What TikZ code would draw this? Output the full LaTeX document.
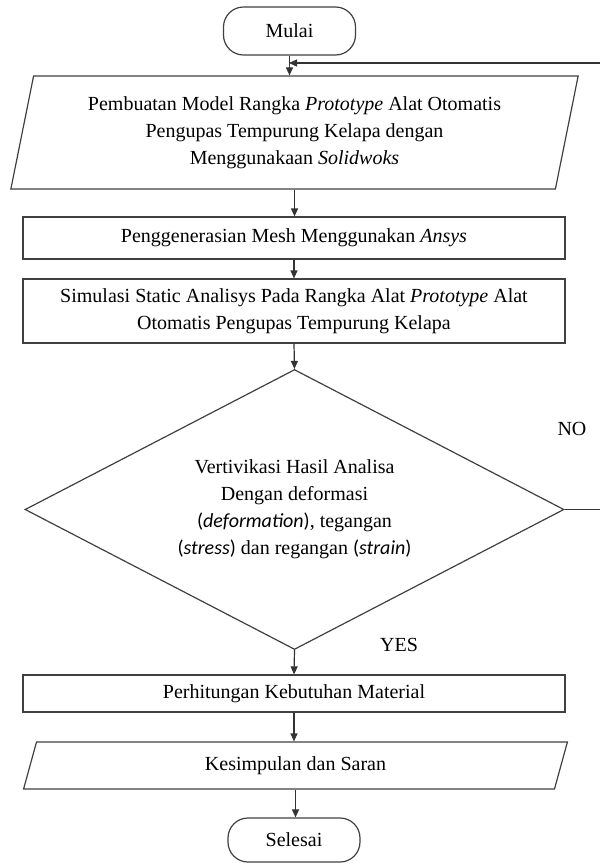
\documentclass[tikz,border=0pt]{standalone}
\usepackage{fontspec}
\setmainfont{Liberation Serif}
\newfontfamily\calibri{Carlito}
\usetikzlibrary{shapes.geometric, arrows.meta, positioning}

\begin{document}
\begin{tikzpicture}[x=0.5pt, y=-0.5pt,
    every node/.style={font=\fontsize{10}{13.5}\selectfont},
    garis/.style={draw=black!75, line width=0.6pt},
    proses/.style={garis, rectangle, minimum width=271pt, align=center, inner sep=0pt},
    masukan/.style={garis, trapezium, trapezium left angle=76, trapezium right angle=104,
        trapezium stretches=true, align=center, inner sep=0pt},
    terminal/.style={garis, rectangle, rounded corners=10pt, minimum width=66pt},
    keputusan/.style={garis, diamond, aspect=2, inner sep=0pt, minimum width=269.5pt,
        minimum height=140pt, align=center},
    panah/.style={black!80, line width=0.6pt, -{Triangle[length=4pt,width=3.5pt]}}]

    \path[use as bounding box, clip] (0,0) rectangle (600,864);

    % mulai
    \node[terminal, minimum height=24pt] (mulai) at (289.5,31) {Mulai};

    % pemodelan
    \node[masukan, minimum width=284.5pt, minimum height=56.5pt] (model) at (294.5,132.5)
        {Pembuatan Model Rangka \textit{Prototype} Alat Otomatis\\
         Pengupas Tempurung Kelapa dengan\\
         Menggunakaan \textit{Solidwoks}};

    % meshing
    \node[proses, minimum height=21pt] (mesh) at (294,238)
        {Penggenerasian Mesh Menggunakan \textit{Ansys}};

    % simulasi
    \node[proses, minimum height=32pt] (simulasi) at (294,311)
        {Simulasi Static Analisys Pada Rangka Alat \textit{Prototype} Alat\\
         Otomatis Pengupas Tempurung Kelapa};

    % verifikasi
    \node[keputusan] (verif) at (294.5,509.5)
        {Vertivikasi Hasil Analisa\\
         Dengan deformasi\\
         {\calibri(\textit{deformation})}, tegangan\\
         {\calibri(\textit{stress})} dan regangan {\calibri(\textit{strain})}};

    % material
    \node[proses, minimum height=18.5pt] (material) at (294,693.5)
        {Perhitungan Kebutuhan Material};

    % kesimpulan
    \node[masukan, minimum width=272.5pt, minimum height=23.5pt] (saran) at (295.5,765.5)
        {Kesimpulan dan Saran};

    % selesai
    \node[terminal, minimum height=22pt] (selesai) at (294,840) {Selesai};

    % label keputusan
    \node (no) at (572,429) {NO};
    \node (yes) at (399,645) {YES};
    \coordinate (balik) at (289,63);

    % panah
    \draw[panah] (mulai.south) -- (mulai.south |- model.north);
    \draw[panah] (model.south) -- (model.south |- mesh.north);
    \draw[panah] (mesh.south) -- (simulasi.north);
    \draw[panah] (simulasi.south) -- (verif.north);
    \draw[panah] (verif.south) -- (material.north);
    \draw[panah] (material.south) -- (material.south |- saran.north);
    \draw[panah] (saran.south) -- (saran.south |- selesai.north);
    \draw[panah] (verif.east) -- ++(40,0) |- (balik);

\end{tikzpicture}
\end{document}
